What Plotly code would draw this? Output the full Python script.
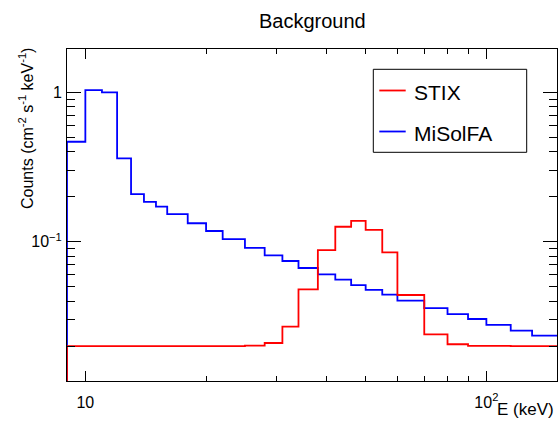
import math
import plotly.graph_objects as go

# ---- data ----
edges = [9, 10, 11, 12, 13, 14, 15, 16, 18, 20, 22, 25, 28, 31, 34, 38, 42, 46,
         50, 55, 60, 70, 80, 90, 100, 115, 130, 150]
misolfa = [0.467, 1.036, 1.00, 0.361, 0.208, 0.185, 0.172, 0.153, 0.133, 0.118,
           0.104, 0.091, 0.081, 0.0743, 0.0667, 0.0605, 0.0557, 0.0513, 0.0477,
           0.0442, 0.0403, 0.036, 0.0328, 0.0304, 0.0278, 0.0254, 0.0235]
stix = [0.020, 0.020, 0.020, 0.020, 0.020, 0.020, 0.020, 0.020, 0.020, 0.020,
        0.020, 0.0202, 0.0210, 0.027, 0.048, 0.088, 0.126, 0.138, 0.120, 0.085,
        0.044, 0.024, 0.0206, 0.0201, 0.0201, 0.0200, 0.0200]
series_names = ["STIX", "MiSolFA"]
x_tickvals = [10, 100]
x_ticktext = ["10", "10<sup>2</sup>"]
x_minor = [20, 30, 40, 50, 60, 70, 80, 90]
y_tickvals = [0.1, 1]
y_ticktext = ["10<sup>\u22121</sup>", "1"]
y_minor = [m * 10 ** k for k in (-2, -1, 0) for m in range(2, 10)]

W, H = 558, 421
L, R, T, B = 67, 1, 49, 40
YLO, YHI = -1.932, 0.29
FONT = "Liberation Sans, Arial, Helvetica, sans-serif"


def step(vals):
    ymin = 10 ** YLO
    xs = [edges[0]] + list(edges)
    ys = [ymin] + list(vals) + [vals[-1]]
    return xs, ys


fig = go.Figure()
xb, yb = step(misolfa)
fig.add_trace(go.Scatter(x=xb, y=yb, mode="lines", line=dict(color="#0000ff", width=1.8, shape="hv"),
                         name=series_names[1], showlegend=False, hoverinfo="skip"))
xr, yr = step(stix)
fig.add_trace(go.Scatter(x=xr, y=yr, mode="lines", line=dict(color="#ff0000", width=1.8, shape="hv"),
                         name=series_names[0], showlegend=False, hoverinfo="skip"))

fig.update_layout(
    width=W, height=H,
    margin=dict(l=L, r=R, t=T, b=B, pad=0),
    paper_bgcolor="white", plot_bgcolor="white",
    font=dict(family=FONT, size=16, color="black"),
    showlegend=False,
)
fig.update_xaxes(
    type="log", range=[math.log10(9), math.log10(150)],
    showgrid=False, zeroline=False,
    showline=True, linecolor="black", linewidth=1, mirror="ticks",
    ticks="inside", ticklen=10, tickwidth=1, tickcolor="black",
    tickvals=x_tickvals, ticktext=x_ticktext,
    tickfont=dict(size=16), ticklabelstandoff=7,
    minor=dict(ticks="inside", ticklen=5, tickwidth=1, tickcolor="black", tickvals=x_minor, showgrid=False),
)
fig.update_yaxes(
    type="log", range=[YLO, YHI],
    showgrid=False, zeroline=False,
    showline=True, linecolor="black", linewidth=1, mirror="ticks",
    ticks="inside", ticklen=14, tickwidth=1, tickcolor="black",
    tickvals=y_tickvals, ticktext=y_ticktext,
    tickfont=dict(size=16), ticklabelstandoff=1,
    minor=dict(ticks="inside", ticklen=8, tickwidth=1, tickcolor="black", tickvals=y_minor, showgrid=False),
)

pw, ph = W - L - R, H - T - B


def px(x):
    return (x - L) / pw


def py(y):
    return (H - B - y) / ph


# title
fig.add_annotation(text="Background", xref="paper", yref="paper", x=px(312.5), y=py(20.5),
                   xanchor="center", yanchor="middle", showarrow=False, font=dict(size=20))
# axis titles
fig.add_annotation(text="Counts (cm<sup>-2</sup> s<sup>-1</sup> keV<sup>-1</sup>)", xref="paper", yref="paper",
                   x=px(26), y=py(129), xanchor="center", yanchor="middle", textangle=-90,
                   showarrow=False, font=dict(size=16))
fig.add_annotation(text="E (keV)", xref="paper", yref="paper", x=px(556), y=py(420.5),
                   xanchor="right", yanchor="bottom", showarrow=False, font=dict(size=17))

# legend box
fig.add_shape(type="rect", xref="paper", yref="paper", x0=px(373.3), x1=px(526.7), y0=py(69.3), y1=py(152.3),
              line=dict(color="black", width=1), fillcolor="white", layer="above")
for name, col, ly in [(series_names[0], "#ff0000", 90.5), (series_names[1], "#0000ff", 131.5)]:
    fig.add_shape(type="line", xref="paper", yref="paper", x0=px(379.3), x1=px(405.7), y0=py(ly), y1=py(ly),
                  line=dict(color=col, width=1.8), layer="above")
    fig.add_annotation(text=name, xref="paper", yref="paper", x=px(411.5), y=py(ly + 2),
                       xanchor="left", yanchor="middle", showarrow=False, font=dict(size=21))

fig.write_html("out.html", config={"displayModeBar": False, "staticPlot": True},
               post_script="document.body.style.margin='0';document.body.style.overflow='hidden';"
                           "document.documentElement.style.overflow='hidden';")
